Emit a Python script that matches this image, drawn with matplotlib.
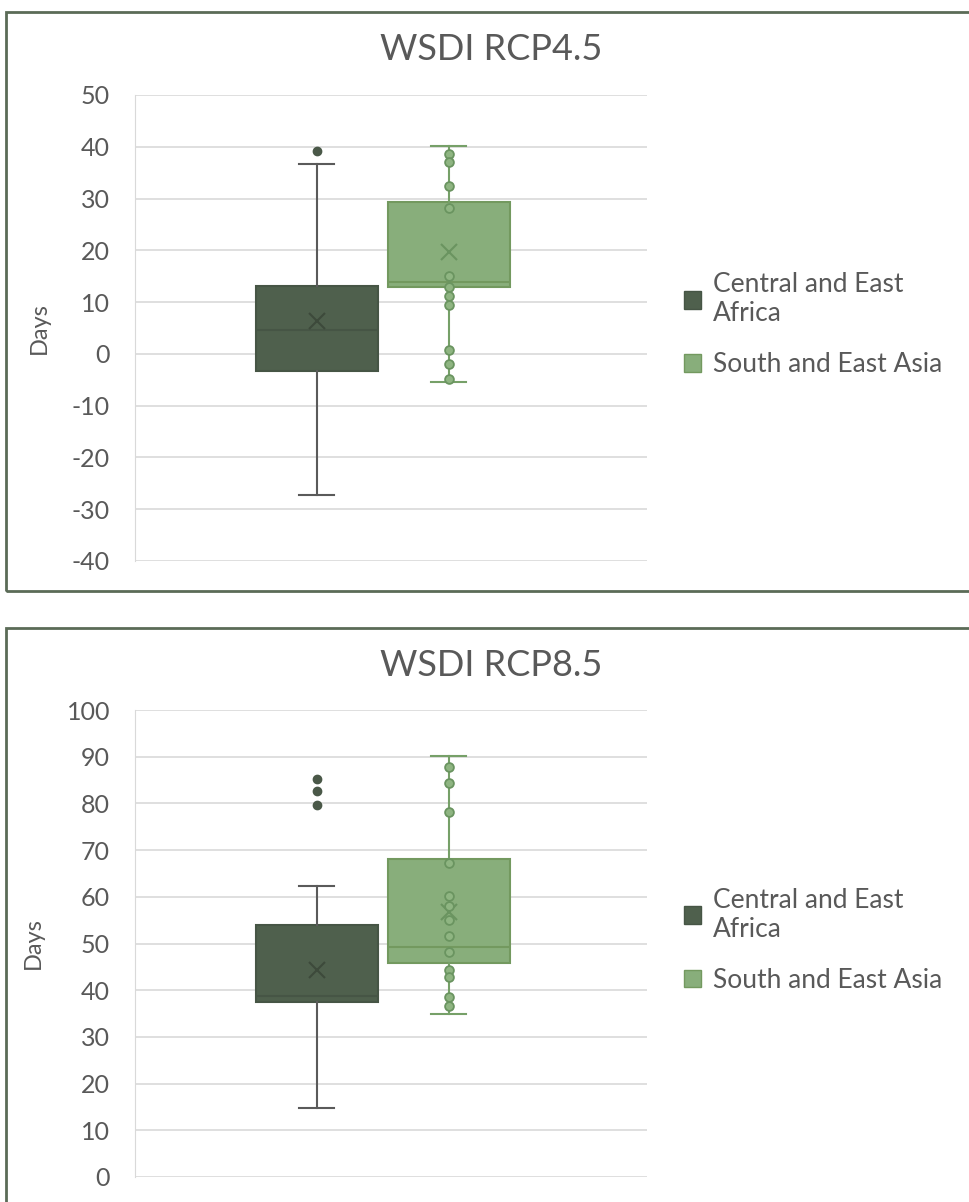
import matplotlib.pyplot as plt
from matplotlib.patches import Rectangle

# ------------------------ data ------------------------
series = ["Central and East\nAfrica", "South and East Asia"]

# WSDI RCP4.5 (days)
rcp45_q1 = [-3.4, 13.0]
rcp45_med = [4.6, 13.8]
rcp45_q3 = [13.1, 29.3]
rcp45_mean = [6.4, 19.7]
rcp45_whislo = [-27.2, -5.4]
rcp45_whishi = [36.6, 40.2]
rcp45_fliers = [[39.2], []]
rcp45_points_asia = [38.7, 37.1, 32.5, 28.1, 15.1, 13.0, 11.1, 9.4, 0.8, -1.9, -4.9]

# WSDI RCP8.5 (days)
rcp85_q1 = [37.5, 45.9]
rcp85_med = [38.7, 49.2]
rcp85_q3 = [53.9, 68.2]
rcp85_mean = [44.4, 56.8]
rcp85_whislo = [14.7, 34.8]
rcp85_whishi = [62.4, 90.1]
rcp85_fliers = [[85.2, 82.7, 79.6], []]
rcp85_points_asia = [87.9, 84.4, 78.1, 67.3, 60.1, 58.0, 55.0, 51.6, 48.1,
                     44.4, 42.9, 38.6, 36.6]

# ------------------------ styling ------------------------
plt.rcParams['font.family'] = ['Lato', 'DejaVu Sans']
plt.rcParams['axes.unicode_minus'] = False  # plain hyphen like the original
text_gray = "#595959"
grid_gray = "#d9d9d9"
border_green = "#5b6b57"
fills = ["#4f604d", "#88ae7b"]
edges = ["#465545", "#73995f"]
whisk = ["#5a5a5a", "#76a068"]
means = ["#3d4a3b", "#6a9460"]
positions = [0.355, 0.613]
box_w = 0.238

fig = plt.figure(figsize=(9.7, 12.02), dpi=100)
W, H = 970, 1202

# panel borders (the right / bottom edges run past the picture)
fig.patches.append(Rectangle((6 / W, 1 - 591 / H), 1.2, (591 - 12) / H,
                             transform=fig.transFigure, fill=False,
                             edgecolor=border_green, linewidth=2))
fig.patches.append(Rectangle((6 / W, -0.2), 1.2, 0.2 + (1202 - 628) / H,
                             transform=fig.transFigure, fill=False,
                             edgecolor=border_green, linewidth=2))


def draw_panel(ax, title, q1, med, q3, mean, lo, hi, fliers, pts, ylim, title_y):
    for i in range(2):
        stats = [dict(q1=q1[i], med=med[i], q3=q3[i], mean=mean[i],
                      whislo=lo[i], whishi=hi[i], fliers=fliers[i])]
        ax.bxp(stats, positions=[positions[i]], widths=box_w, patch_artist=True,
               showmeans=True, capwidths=0.068, manage_ticks=False,
               boxprops=dict(facecolor=fills[i], edgecolor=edges[i], linewidth=1.5),
               whiskerprops=dict(color=whisk[i], linewidth=1.5),
               capprops=dict(color=whisk[i], linewidth=1.5),
               medianprops=dict(color=edges[i], linewidth=1.5),
               meanprops=dict(marker="x", markersize=12, markeredgecolor=means[i],
                              markeredgewidth=1.5),
               flierprops=dict(marker="o", markersize=6, markerfacecolor="#4a5848",
                               markeredgecolor="#4a5848"),
               zorder=3)
    # inner points of the Asia series
    ax.scatter([positions[1]] * len(pts), pts, s=40, facecolor="#8fb582",
               edgecolor="#6a9460", linewidth=1.3, zorder=4)

    ax.set_xlim(0, 1)
    ax.set_ylim(*ylim)
    ax.set_yticks(range(ylim[0], ylim[1] + 1, 10))
    ax.set_xticks([])
    ax.grid(axis="y", color=grid_gray, linewidth=1.2, zorder=0)
    ax.set_axisbelow(True)
    for s in ["top", "right", "bottom"]:
        ax.spines[s].set_visible(False)
    ax.spines["left"].set_color(grid_gray)
    ax.tick_params(axis="y", length=0, pad=18, labelsize=18, labelcolor=text_gray)
    ax.set_ylabel("Days", fontsize=17, color=text_gray, labelpad=16)

    fig.text(491 / W, 1 - title_y / H, title, ha="center", va="center",
             fontsize=26, color=text_gray)

    handles = [Rectangle((0, 0), 1, 1, facecolor=fills[i], edgecolor=edges[i])
               for i in range(2)]
    ax.legend(handles, series, loc="center left", bbox_to_anchor=(1.052, 0.507),
              borderaxespad=0, frameon=False, fontsize=19, labelcolor=text_gray,
              handlelength=0.65, handleheight=0.65, handletextpad=0.45,
              labelspacing=1.0)


ax1 = fig.add_axes([135 / W, 1 - 561 / H, 512 / W, (561 - 95) / H])
draw_panel(ax1, "WSDI RCP4.5", rcp45_q1, rcp45_med, rcp45_q3, rcp45_mean,
           rcp45_whislo, rcp45_whishi, rcp45_fliers, rcp45_points_asia,
           (-40, 50), 50)

ax2 = fig.add_axes([135 / W, 1 - 1177 / H, 512 / W, (1177 - 710) / H])
draw_panel(ax2, "WSDI RCP8.5", rcp85_q1, rcp85_med, rcp85_q3, rcp85_mean,
           rcp85_whislo, rcp85_whishi, rcp85_fliers, rcp85_points_asia,
           (0, 100), 666)

fig.savefig("out.png", dpi=100)
